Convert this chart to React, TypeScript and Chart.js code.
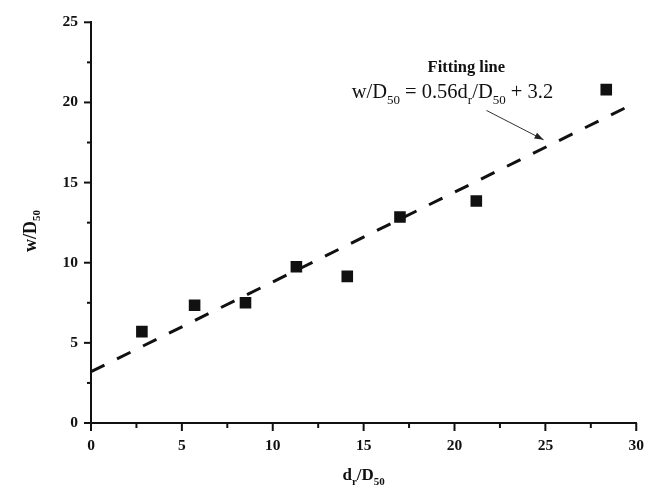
import React, { useEffect, useRef } from "react";
import { Chart, registerables } from "chart.js";

Chart.register(...registerables);

const ratioX: number[] = [2.8, 5.7, 8.5, 11.3, 14.1, 17.0, 21.2, 28.35];
const ratioW: number[] = [5.7, 7.35, 7.5, 9.75, 9.15, 12.85, 13.85, 20.8];
const fitSlope = 0.56;
const fitIntercept = 3.2;
const fitRange: number[] = [0, 30];
const xTicksMajor: number[] = [0, 5, 10, 15, 20, 25, 30];
const yTicksMajor: number[] = [0, 5, 10, 15, 20, 25];

const SERIF = "'Liberation Serif', 'Times New Roman', serif";
const INK = "#111111";

type Seg = { t: string; sub?: boolean };

function drawSegs(ctx: CanvasRenderingContext2D, segs: Seg[], x: number, y: number, size: number, subSize: number, subDrop: number, bold: boolean, align: "left" | "center") {
  const w = bold ? "bold " : "";
  let total = 0;
  const widths = segs.map((s) => {
    ctx.font = `${w}${s.sub ? subSize : size}px ${SERIF}`;
    const m = ctx.measureText(s.t).width;
    total += m;
    return m;
  });
  let cx = align === "center" ? x - total / 2 : x;
  ctx.textAlign = "left";
  ctx.textBaseline = "alphabetic";
  segs.forEach((s, i) => {
    ctx.font = `${w}${s.sub ? subSize : size}px ${SERIF}`;
    ctx.fillText(s.t, cx, y + (s.sub ? subDrop : 0));
    cx += widths[i];
  });
}

const decorPlugin = {
  id: "decor",
  afterDraw(chart: any) {
    const ctx: CanvasRenderingContext2D = chart.ctx;
    const xs = chart.scales.x;
    const ys = chart.scales.y;
    const area = chart.chartArea;
    ctx.save();
    ctx.strokeStyle = INK;
    ctx.fillStyle = INK;
    ctx.lineWidth = 2;
    for (let i = 0; i < xTicksMajor.length; i++) {
      const v = xTicksMajor[i];
      const px = xs.getPixelForValue(v);
      ctx.beginPath();
      ctx.moveTo(px, area.bottom);
      ctx.lineTo(px, area.bottom + 8);
      ctx.stroke();
      if (i < xTicksMajor.length - 1) {
        const mv = (v + xTicksMajor[i + 1]) / 2;
        const mp = xs.getPixelForValue(mv);
        ctx.beginPath();
        ctx.moveTo(mp, area.bottom);
        ctx.lineTo(mp, area.bottom + 5);
        ctx.stroke();
      }
    }
    for (let i = 0; i < yTicksMajor.length; i++) {
      const v = yTicksMajor[i];
      const py = ys.getPixelForValue(v);
      ctx.beginPath();
      ctx.moveTo(area.left, py);
      ctx.lineTo(area.left - 7, py);
      ctx.stroke();
      if (i < yTicksMajor.length - 1) {
        const mv = (v + yTicksMajor[i + 1]) / 2;
        const mp = ys.getPixelForValue(mv);
        ctx.beginPath();
        ctx.moveTo(area.left, mp);
        ctx.lineTo(area.left - 4, mp);
        ctx.stroke();
      }
    }

    drawSegs(
      ctx,
      [{ t: "d" }, { t: "r", sub: true }, { t: "/D" }, { t: "50", sub: true }],
      (area.left + area.right) / 2,
      480,
      17,
      11,
      5,
      true,
      "center"
    );

    ctx.save();
    ctx.translate(36, 231);
    ctx.rotate(-Math.PI / 2);
    drawSegs(ctx, [{ t: "w/D" }, { t: "50", sub: true }], 0, 0, 18, 11, 4, true, "center");
    ctx.restore();

    ctx.fillStyle = INK;
    ctx.font = `bold 16.5px ${SERIF}`;
    ctx.textAlign = "center";
    ctx.textBaseline = "alphabetic";
    ctx.fillText("Fitting line", xs.getPixelForValue(20.65), ys.getPixelForValue(21.9));
    drawSegs(
      ctx,
      [
        { t: "w/D" },
        { t: "50", sub: true },
        { t: " = 0.56d" },
        { t: "r", sub: true },
        { t: "/D" },
        { t: "50", sub: true },
        { t: " + 3.2" },
      ],
      xs.getPixelForValue(14.34),
      ys.getPixelForValue(20.25),
      20.5,
      13,
      6,
      false,
      "left"
    );

    const ax0 = xs.getPixelForValue(21.76);
    const ay0 = ys.getPixelForValue(19.5);
    const ax1 = xs.getPixelForValue(24.9);
    const ay1 = ys.getPixelForValue(17.67);
    ctx.strokeStyle = "#333";
    ctx.fillStyle = "#222";
    ctx.lineWidth = 1;
    ctx.beginPath();
    ctx.moveTo(ax0, ay0);
    ctx.lineTo(ax1, ay1);
    ctx.stroke();
    const ang = Math.atan2(ay1 - ay0, ax1 - ax0);
    const hl = 9;
    const hw = 3.2;
    ctx.beginPath();
    ctx.moveTo(ax1, ay1);
    ctx.lineTo(ax1 - hl * Math.cos(ang) + hw * Math.sin(ang), ay1 - hl * Math.sin(ang) - hw * Math.cos(ang));
    ctx.lineTo(ax1 - hl * Math.cos(ang) - hw * Math.sin(ang), ay1 - hl * Math.sin(ang) + hw * Math.cos(ang));
    ctx.closePath();
    ctx.fill();
    ctx.restore();
  },
};

const bgPlugin = {
  id: "bg",
  beforeDraw(chart: any) {
    const ctx = chart.ctx;
    ctx.save();
    ctx.fillStyle = "#ffffff";
    ctx.fillRect(0, 0, chart.width, chart.height);
    ctx.restore();
  },
};

export default function App() {
  const ref = useRef<HTMLCanvasElement | null>(null);
  useEffect(() => {
    if (!ref.current) return;
    const points = ratioX.map((x, i) => ({ x, y: ratioW[i] }));
    const fit = fitRange.map((x) => ({ x, y: fitSlope * x + fitIntercept }));
    const chart = new Chart(ref.current, {
      type: "scatter",
      data: {
        datasets: [
          {
            type: "scatter",
            data: points,
            pointStyle: "rect",
            pointRadius: 8.2,
            backgroundColor: INK,
            borderColor: INK,
            borderWidth: 0,
            order: 0,
          },
          {
            type: "line",
            data: fit,
            borderColor: INK,
            borderWidth: 3,
            borderDash: [15, 14],
            pointRadius: 0,
            fill: false,
            order: 1,
          } as any,
        ],
      },
      options: {
        responsive: false,
        animation: false,
        events: [],
        layout: { padding: { top: 16, right: 21, left: 0, bottom: 0 } },
        plugins: { legend: { display: false }, tooltip: { enabled: false } },
        scales: {
          x: {
            type: "linear",
            min: 0,
            max: 30,
            grid: { display: false, drawTicks: false },
            border: { display: true, color: INK, width: 2 },
            ticks: {
              stepSize: 5,
              color: INK,
              padding: 14,
              font: { family: SERIF, size: 15.5, weight: "bold" },
            },
            afterFit: (s: any) => {
              s.height = 71;
            },
          },
          y: {
            type: "linear",
            min: 0,
            max: 25,
            grid: { display: false, drawTicks: false },
            border: { display: true, color: INK, width: 2 },
            ticks: {
              stepSize: 5,
              color: INK,
              padding: 13,
              font: { family: SERIF, size: 15.5, weight: "bold" },
            },
            afterFit: (s: any) => {
              s.width = 91;
            },
          },
        },
      },
      plugins: [bgPlugin, decorPlugin],
    });
    return () => chart.destroy();
  }, []);
  return (
    <div style={{ position: "fixed", left: 0, top: 0, width: 658, height: 494, background: "#fff" }}>
      <canvas ref={ref} width={658} height={494} style={{ display: "block", width: 658, height: 494 }} />
    </div>
  );
}
